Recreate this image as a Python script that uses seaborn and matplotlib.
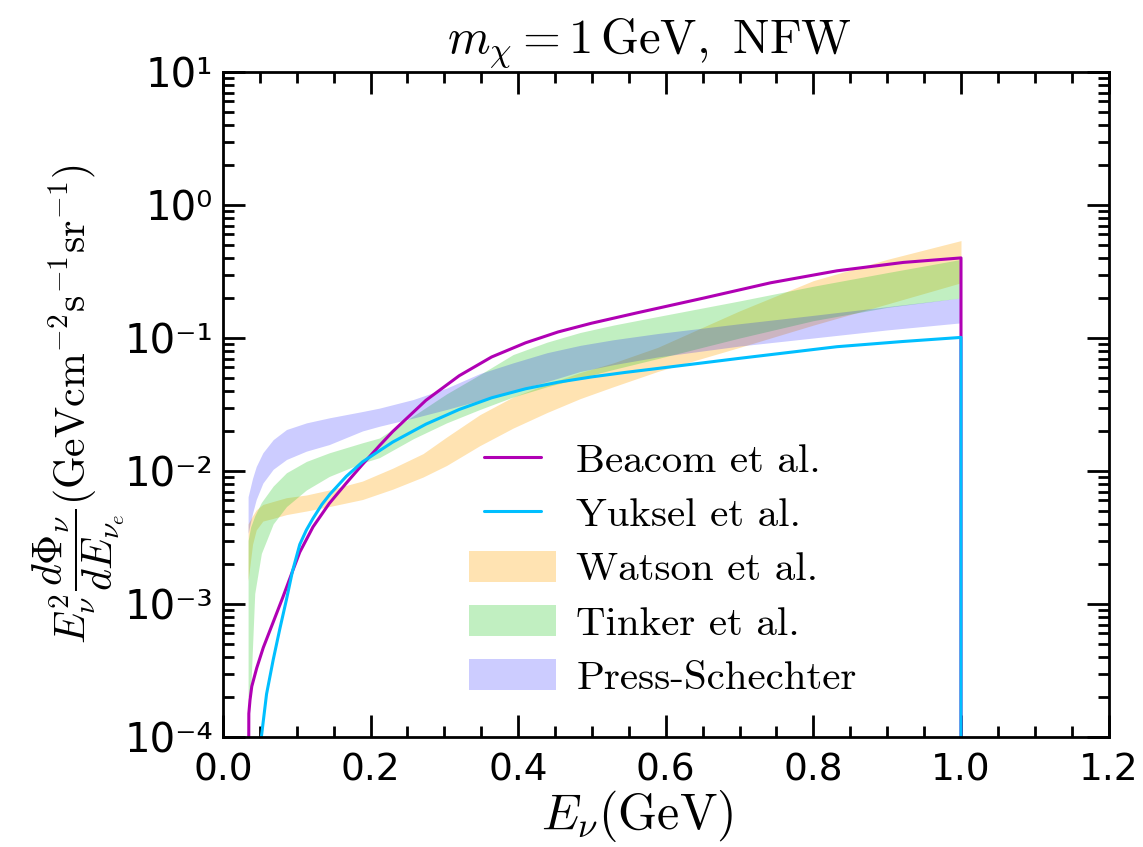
import numpy as np
import matplotlib
matplotlib.use("Agg")
import matplotlib.pyplot as plt
import seaborn as sns
from matplotlib.legend_handler import HandlerLine2D

# =========================================================
# data
# =========================================================
# Beacom et al. (line)
beacom_x = [0.034, 0.035, 0.0366, 0.039, 0.0457, 0.0546, 0.068, 0.081, 0.094, 0.104, 0.122, 0.144,
            0.167, 0.189, 0.212, 0.23, 0.275, 0.32, 0.364, 0.41, 0.454, 0.499,
            0.562, 0.652, 0.742, 0.832, 0.922, 1.0, 1.0]
beacom_y = [1e-6, 1.5e-4, 1.9e-4, 2.4e-4, 3.3e-4, 4.7e-4, 7.3e-4, 1.12e-3, 1.75e-3, 2.45e-3, 3.8e-3, 5.7e-3,
            8.1e-3, 1.12e-2, 1.55e-2, 1.98e-2, 3.4e-2, 5.2e-2, 7.2e-2, 9.2e-2, 0.111, 0.129,
            0.155, 0.20, 0.26, 0.32, 0.37, 0.40, 1e-6]

# Yuksel et al. (line)
yuksel_x = [0.050, 0.052, 0.059, 0.068, 0.077, 0.086, 0.094, 0.104, 0.113, 0.122, 0.134, 0.145,
            0.167, 0.189, 0.212, 0.23, 0.275, 0.32, 0.364, 0.41, 0.454, 0.5,
            0.544, 0.589, 0.697, 0.832, 0.92, 1.0, 1.0]
yuksel_y = [7e-5, 1.0e-4, 2.1e-4, 3.8e-4, 6.5e-4, 1.08e-3, 1.75e-3, 2.8e-3, 3.6e-3, 4.4e-3, 5.6e-3, 6.7e-3,
            9.1e-3, 1.17e-2, 1.42e-2, 1.65e-2, 2.25e-2, 2.9e-2, 3.55e-2, 4.15e-2, 4.65e-2, 5.1e-2,
            5.5e-2, 5.9e-2, 7.0e-2, 8.6e-2, 9.4e-2, 0.101, 1e-6]

# Watson et al. (band)
watson_x = [0.034, 0.04, 0.045, 0.054, 0.068, 0.086, 0.113, 0.144, 0.189, 0.23, 0.271,
            0.303, 0.348, 0.393, 0.439, 0.484, 0.529, 0.589, 0.7, 0.8, 0.9, 1.0]
watson_lo = [1.5e-3, 2.8e-3, 3.6e-3, 4.2e-3, 4.4e-3, 4.7e-3, 5.0e-3, 5.4e-3, 6.1e-3, 7.3e-3, 9.0e-3,
             1.1e-2, 1.55e-2, 2.1e-2, 2.75e-2, 3.5e-2, 4.3e-2, 5.6e-2, 8.5e-2, 0.125, 0.18, 0.26]
watson_hi = [4.0e-3, 4.6e-3, 5.1e-3, 5.6e-3, 5.9e-3, 6.3e-3, 6.6e-3, 7.2e-3, 8.4e-3, 1.05e-2, 1.35e-2,
             1.8e-2, 2.65e-2, 3.6e-2, 4.5e-2, 5.5e-2, 6.5e-2, 8.5e-2, 0.16, 0.27, 0.39, 0.54]

# Tinker et al. (band)
tinker_x = [0.034, 0.0375, 0.043, 0.052, 0.068, 0.086, 0.113, 0.144, 0.189, 0.212, 0.258,
            0.303, 0.348, 0.393, 0.439, 0.484, 0.529, 0.589, 0.7, 0.8, 0.9, 1.0]
tinker_lo = [2.0e-4, 2.2e-4, 1.2e-3, 2.4e-3, 4.0e-3, 5.4e-3, 7.2e-3, 9.1e-3, 1.15e-2, 1.26e-2, 1.75e-2,
             2.3e-2, 2.9e-2, 3.6e-2, 4.3e-2, 5.0e-2, 5.8e-2, 7.0e-2, 0.10, 0.135, 0.17, 0.20]
tinker_hi = [3.0e-3, 3.8e-3, 4.6e-3, 5.8e-3, 7.7e-3, 9.7e-3, 1.18e-2, 1.37e-2, 1.63e-2, 1.77e-2, 2.6e-2,
             3.8e-2, 5.3e-2, 7.5e-2, 9.3e-2, 0.11, 0.125, 0.145, 0.19, 0.245, 0.31, 0.39]

# Press-Schechter (band)
ps_x = [0.034, 0.04, 0.045, 0.054, 0.068, 0.086, 0.113, 0.144, 0.189, 0.212, 0.258,
        0.303, 0.348, 0.393, 0.439, 0.484, 0.529, 0.589, 0.7, 0.8, 0.9, 1.0]
ps_lo = [3.4e-3, 4.8e-3, 6.1e-3, 8.1e-3, 1.03e-2, 1.22e-2, 1.41e-2, 1.58e-2, 2.0e-2, 2.17e-2, 2.5e-2,
         2.9e-2, 3.4e-2, 4.0e-2, 4.7e-2, 5.6e-2, 6.3e-2, 7.2e-2, 8.7e-2, 0.10, 0.115, 0.13]
ps_hi = [6.4e-3, 8.8e-3, 1.08e-2, 1.37e-2, 1.72e-2, 2.05e-2, 2.3e-2, 2.51e-2, 2.8e-2, 2.97e-2, 3.45e-2,
         4.2e-2, 5.4e-2, 6.5e-2, 7.75e-2, 8.8e-2, 9.7e-2, 0.108, 0.128, 0.148, 0.172, 0.20]

xticks = [0.0, 0.2, 0.4, 0.6, 0.8, 1.0, 1.2]
xtick_labels = ["0.0", "0.2", "0.4", "0.6", "0.8", "1.0", "1.2"]
yticks = [1e-4, 1e-3, 1e-2, 1e-1, 1e0, 1e1]
ytick_labels = ["10\u207b\u2074", "10\u207b\u00b3", "10\u207b\u00b2", "10\u207b\u00b9", "10\u2070", "10\u00b9"]


class ShortLine(HandlerLine2D):
    # line handles are a bit shorter than the patch handles
    def create_artists(self, legend, orig_handle, xdescent, ydescent, width, height, fontsize, trans):
        p = 11
        return super().create_artists(legend, orig_handle, xdescent - p, ydescent,
                                      width - 2 * p, height, fontsize, trans)


# =========================================================
# figure
# =========================================================
sns.set_style("ticks", {"text.color": "black", "axes.labelcolor": "black",
                        "xtick.color": "black", "ytick.color": "black",
                        "axes.edgecolor": "black"})
plt.rcParams["font.family"] = ["DejaVu Sans"]
plt.rcParams["mathtext.fontset"] = "cm"
plt.rcParams["axes.linewidth"] = 2.0

fig = plt.figure(figsize=(11.43, 8.47), dpi=100)
ax = fig.add_axes([0.1951, 0.1299, 0.7748, 0.7851])

ax.fill_between(watson_x, watson_lo, watson_hi, color="orange", alpha=0.3, lw=0, label="Watson et al.")
ax.fill_between(tinker_x, tinker_lo, tinker_hi, color="limegreen", alpha=0.3, lw=0, label="Tinker et al.")
ax.fill_between(ps_x, ps_lo, ps_hi, color="blue", alpha=0.2, lw=0, label="Press-Schechter")

sns.lineplot(x=beacom_x, y=beacom_y, ax=ax, color="#B000B4", lw=2.2, sort=False, estimator=None,
             label="Beacom et al.")
sns.lineplot(x=yuksel_x, y=yuksel_y, ax=ax, color="deepskyblue", lw=2.2, sort=False, estimator=None,
             label="Yuksel et al.")

ax.set_yscale("log")
ax.set_xlim(0, 1.2)
ax.set_ylim(1e-4, 1e1)

ax.set_xticks(xticks)
ax.set_xticklabels(xtick_labels, fontsize=27)
ax.set_xticks(np.arange(0, 1.2001, 0.05), minor=True)
ax.set_yticks(yticks)
ax.set_yticklabels(ytick_labels, fontsize=29)
ax.tick_params(which="both", direction="in", top=True, right=True, width=2)
ax.tick_params(which="major", length=16, pad=7)
ax.tick_params(axis="x", which="major", pad=11)
ax.tick_params(which="minor", length=8)

ax.set_xlabel(r"$E_\nu(\mathrm{GeV})$", fontsize=36, labelpad=0, x=0.4675)
ax.set_ylabel(r"$E_\nu^2\dfrac{d\Phi_\nu}{dE_{\nu_e}}(\mathrm{GeV cm^{-2}s^{-1}sr^{-1}})$",
              fontsize=30, labelpad=-2)
ax.set_title(r"$m_\chi = 1\,\mathrm{GeV},\ \mathrm{NFW}$", fontsize=35, pad=14, x=0.482)

handles, labels = ax.get_legend_handles_labels()
order = ["Beacom et al.", "Yuksel et al.", "Watson et al.", "Tinker et al.", "Press-Schechter"]
hmap = dict(zip(labels, handles))
leg = ax.legend([hmap[k] for k in order], order, loc="upper left",
                bbox_to_anchor=(0.268, 0.456), frameon=False,
                prop={"family": "cmr10", "size": 29.5}, handlelength=2.13, handleheight=0.8,
                labelspacing=0.4, handletextpad=0.5, borderaxespad=0, borderpad=0.2,
                handler_map={type(hmap["Beacom et al."]): ShortLine()})

fig.savefig("out.png", dpi=100)
